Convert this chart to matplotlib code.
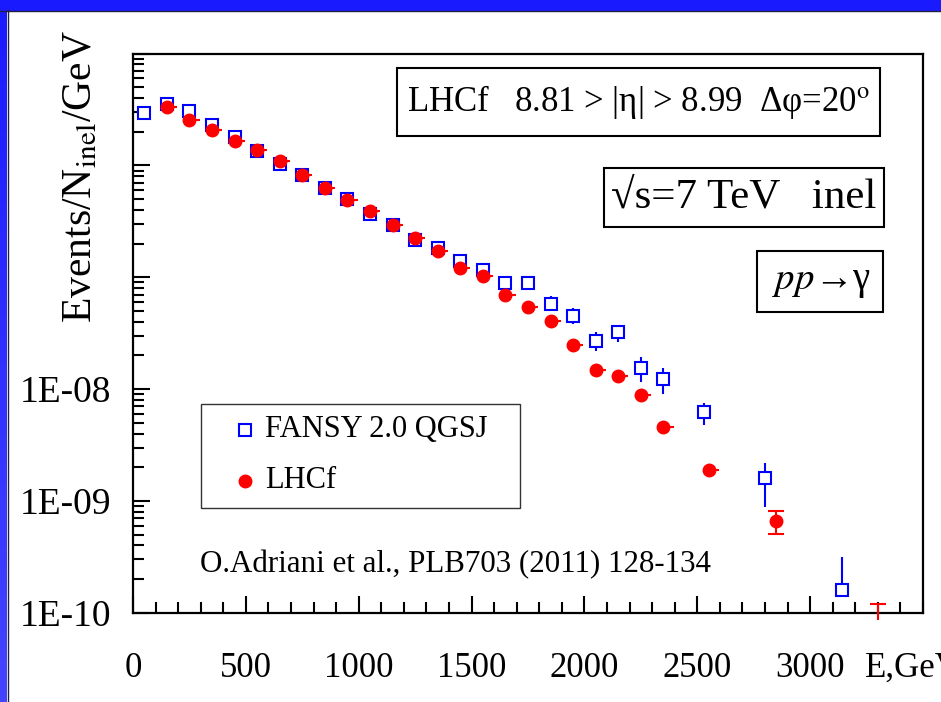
import numpy as np
import matplotlib
matplotlib.use("Agg")
import matplotlib.pyplot as plt
from matplotlib.patches import Rectangle
from matplotlib.lines import Line2D
from matplotlib.ticker import FixedLocator, FixedFormatter, MultipleLocator, LogLocator, NullFormatter

plt.rcParams['font.family'] = ['Liberation Serif', 'DejaVu Serif']
plt.rcParams['mathtext.fontset'] = 'stix'

# FANSY 2.0 QGSJ prediction (GeV, Events/N_inel/GeV)
fansy_e = [50, 150, 250, 350, 450, 550, 650, 750, 850, 950, 1050, 1150,
           1250, 1350, 1450, 1550, 1650, 1750, 1850, 1950, 2050, 2150, 2250, 2350,
           2530, 2800, 3140]
fansy_v = [2.96e-6, 3.52e-6, 3.07e-6, 2.30e-6, 1.79e-6, 1.34e-6, 1.03e-6, 8.2e-7,
           6.3e-7, 5.0e-7, 3.66e-7, 2.94e-7, 2.15e-7, 1.81e-7, 1.39e-7, 1.16e-7,
           8.96e-8, 8.96e-8, 5.74e-8, 4.46e-8, 2.71e-8, 3.23e-8, 1.54e-8, 1.23e-8,
           6.29e-9, 1.60e-9, 1.59e-10]
fansy_err_lo = [0] * 16 + [1.1e-8, 1.1e-8, 0.8e-8, 0.65e-8, 0.50e-8, 0.57e-8, 0.38e-8, 0.33e-8,
                           1.55e-9, 0.71e-9, 0.14e-10]
fansy_err_hi = [0] * 16 + [1.3e-8, 1.3e-8, 1.0e-8, 0.8e-8, 0.54e-8, 0.53e-8, 0.38e-8, 0.30e-8,
                           1.28e-9, 0.59e-9, 1.57e-10]

# LHCf measurement
lhcf_e = [150, 250, 350, 450, 550, 650, 750, 850, 950, 1050, 1150, 1250,
          1350, 1450, 1550, 1650, 1750, 1850, 1950, 2050, 2150, 2250, 2350,
          2550, 2850]
lhcf_v = [3.36e-6, 2.53e-6, 2.08e-6, 1.65e-6, 1.36e-6, 1.09e-6, 8.26e-7, 6.3e-7,
          4.92e-7, 3.92e-7, 2.94e-7, 2.26e-7, 1.71e-7, 1.22e-7, 1.02e-7, 6.99e-8,
          5.37e-8, 4.04e-8, 2.50e-8, 1.49e-8, 1.31e-8, 8.87e-9, 4.57e-9,
          1.90e-9, 6.67e-10]
lhcf_xerr = [45] * 24 + [0]
# only the last bins have visible vertical errors
lhcf_err_e = [2850]
lhcf_err_v = [6.67e-10]
lhcf_err_lo = [1.61e-10]
lhcf_err_hi = [1.53e-10]
# last bin: only the upper part of the bar sits inside the frame
lhcf_lim_e = [3300]
lhcf_lim_lo = [0.86e-10]
lhcf_lim_hi = [1.19e-10]

x_ticks = [0, 500, 1000, 1500, 2000, 2500, 3000]
y_ticks = [1e-10, 1e-9, 1e-8, 1e-7, 1e-6, 1e-5]
y_labels = ['1E-10', '1E-09', '1E-08', '', '', '']

W, H = 941, 702
BLUE = '#0000ff'
RED = '#ff0000'


def fx(px):
    return px / W


def fy(py):
    return 1 - py / H


def fig_box(fig, x0, y0, x1, y1, lw=1.5, color='black'):
    fig.add_artist(Rectangle((fx(x0), fy(y1)), (x1 - x0) / W, (y1 - y0) / H,
                             transform=fig.transFigure, fill=True, fc='white',
                             ec=color, lw=lw, zorder=5))


fig = plt.figure(figsize=(W / 100, H / 100), dpi=100)
fig.patch.set_facecolor('white')

ax = fig.add_axes([fx(133), fy(612.7), 790 / W, 559.1 / H])
ax.set_yscale('log')
ax.set_xlim(0, 3500)
ax.set_ylim(1e-10, 1e-5)

# FANSY squares with vertical errors
ax.errorbar(fansy_e, fansy_v, yerr=[fansy_err_lo, fansy_err_hi], fmt='s',
            ms=8, mfc='white', mec=BLUE, mew=1.5, ecolor=BLUE, elinewidth=1.5,
            capsize=0, zorder=3)

# LHCf points with their one-sided horizontal bars
ax.errorbar(lhcf_e, lhcf_v, xerr=[[0] * len(lhcf_e), lhcf_xerr], fmt='o',
            ms=9, color=RED, ecolor=RED, elinewidth=1.5, capsize=0, zorder=4)
ax.errorbar(lhcf_err_e, lhcf_err_v, yerr=[lhcf_err_lo, lhcf_err_hi], fmt='none',
            ecolor=RED, elinewidth=1.5, capsize=6, capthick=1.5, zorder=4)
ax.vlines(lhcf_lim_e, lhcf_lim_lo, lhcf_lim_hi, color=RED, lw=1.5, clip_on=False, zorder=4)
ax.plot(lhcf_lim_e, lhcf_lim_hi, '_', ms=12, mew=1.5, color=RED, clip_on=False, zorder=4)

# axes styling
for s in ax.spines.values():
    s.set_linewidth(1.6)
ax.xaxis.set_major_locator(FixedLocator(x_ticks))
ax.xaxis.set_minor_locator(MultipleLocator(100))
ax.yaxis.set_major_locator(FixedLocator(y_ticks))
ax.yaxis.set_major_formatter(FixedFormatter(y_labels))
ax.yaxis.set_minor_locator(LogLocator(base=10, subs=np.arange(2, 10)))
ax.yaxis.set_minor_formatter(NullFormatter())
ax.tick_params(which='both', direction='in', top=False, right=False, width=1.5)
ax.tick_params(which='major', length=12)
ax.tick_params(which='minor', length=8)
ax.tick_params(axis='x', which='major', pad=28, labelsize=25)
ax.tick_params(axis='y', which='major', pad=16, labelsize=27)

fig.text(fx(865), fy(668), 'E,GeV', fontsize=25, ha='left', va='center')
fig.text(fx(81), fy(177), r'Events/N$_{\rm inel}$/GeV', fontsize=30,
         rotation=90, ha='center', va='center')

# annotation boxes
fig_box(fig, 397, 68, 880, 136)
fig.text(fx(638), fy(102), 'LHCf   8.81 > |η| > 8.99  Δφ=20$^{\\rm o}$',
         fontsize=25, ha='center', va='center', zorder=6)
fig_box(fig, 604, 168, 884, 227)
fig.text(fx(744), fy(197.5), '√s=7 TeV   inel', fontsize=31,
         ha='center', va='center', zorder=6)
fig_box(fig, 757, 251, 883, 312)
fig.text(fx(822), fy(281.5), '$pp$→γ', fontsize=28,
         ha='center', va='center', zorder=6)

# legend
fig_box(fig, 200.7, 404, 520, 507.7, lw=1.0, color='#333333')
fig.add_artist(Line2D([fx(245)], [fy(430)], marker='s', ms=8, mfc='white', mec=BLUE,
                      mew=1.5, ls='none', transform=fig.transFigure, zorder=6))
fig.add_artist(Line2D([fx(245)], [fy(481)], marker='o', ms=9, color=RED,
                      ls='none', transform=fig.transFigure, zorder=6))
fig.text(fx(265), fy(430), 'FANSY 2.0 QGSJ', fontsize=22, ha='left', va='center', zorder=6)
fig.text(fx(265), fy(481), 'LHCf', fontsize=22, ha='left', va='center', zorder=6)

fig.text(fx(200), fy(565), 'O.Adriani et al., PLB703 (2011) 128-134', fontsize=22.3,
         ha='left', va='center')

# slide frame: blue bars on top and left
grad = fig.add_axes([0, 0, 7 / W, 1])
grad.imshow(np.linspace(0, 1, 100).reshape(-1, 1), aspect='auto',
            cmap=matplotlib.colors.LinearSegmentedColormap.from_list('frame', ['#1a1aff', '#4444ff']),
            extent=[0, 1, 0, 1], origin='upper')
grad.axis('off')
fig.add_artist(Rectangle((0, fy(10)), 1, 10 / H, transform=fig.transFigure,
                         color='#1a1aff', zorder=10))
fig.add_artist(Line2D([0, 1], [fy(10.5)] * 2, color='#202040', lw=1, transform=fig.transFigure, zorder=10))
fig.add_artist(Line2D([fx(7.5)] * 2, [0, fy(10)], color='#202040', lw=1, transform=fig.transFigure, zorder=10))

fig.savefig('out.png', dpi=100)
